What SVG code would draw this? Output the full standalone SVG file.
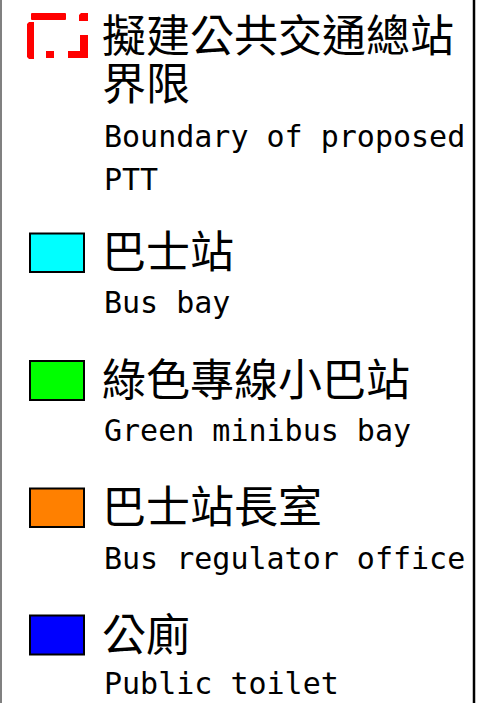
<svg xmlns="http://www.w3.org/2000/svg" width="477" height="703" viewBox="0 0 477 703">
<style>
.zh{font-family:"Noto Sans CJK TC","Noto Sans CJK SC",sans-serif;font-size:44px;fill:#000}
.en{font-family:"DejaVu Sans Mono","Liberation Mono",monospace;font-size:30px;fill:#000}
.sw{stroke:#000;stroke-width:2}
.red{fill:#ff0000}
</style>
<rect width="477" height="703" fill="#fff"/>
<line x1="1" y1="0" x2="1" y2="703" stroke="#808080" stroke-width="2"/>
<line x1="474" y1="0" x2="474" y2="703" stroke="#000" stroke-width="2.5"/>
<g id="boundary">
<g class="red">
<rect x="31" y="13" width="35" height="7" rx="1"/>
<path d="M81,13 H88 V21 H79 V15 Z"/>
<path d="M29,22 H34 V59 H29 L27,57 V24 Z"/>
<rect x="46" y="51" width="8" height="7"/>
<path d="M80,35 H88 V58 H68 V51 H80 Z"/>
</g>
<text class="zh" x="102" y="52">擬建公共交通總站</text>
<text class="zh" x="102" y="100">界限</text>
<text class="en" x="104" y="147">Boundary of proposed</text>
<text class="en" x="104" y="190">PTT</text>
</g>
<g id="busbay">
<rect class="sw" x="30" y="233.5" width="54" height="38.5" fill="#00ffff"/>
<text class="zh" x="102" y="268">巴士站</text>
<text class="en" x="104" y="313">Bus bay</text>
</g>
<g id="gmb">
<rect class="sw" x="30" y="361" width="54" height="39" fill="#00ff00"/>
<text class="zh" x="102" y="396">綠色專線小巴站</text>
<text class="en" x="104" y="441">Green minibus bay</text>
</g>
<g id="regulator">
<rect class="sw" x="30" y="488.5" width="54" height="38.5" fill="#ff8000"/>
<text class="zh" x="102" y="523">巴士站長室</text>
<text class="en" x="104" y="569">Bus regulator office</text>
</g>
<g id="toilet">
<rect class="sw" x="30" y="615.5" width="54" height="39" fill="#0000ff"/>
<text class="zh" x="102" y="651">公廁</text>
<text class="en" x="104" y="694">Public toilet</text>
</g>
</svg>
